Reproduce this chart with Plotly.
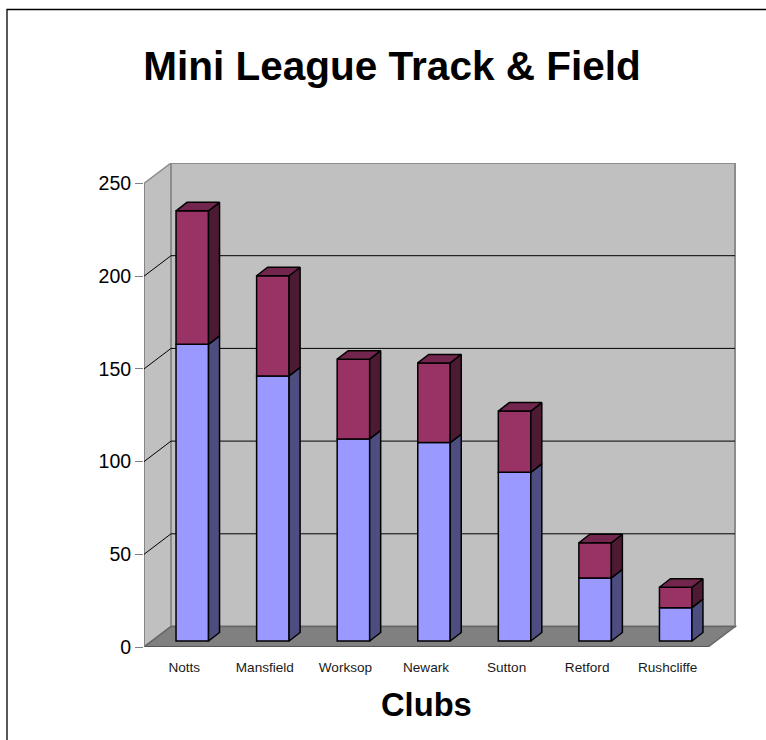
import plotly.graph_objects as go

# ---- data ----
clubs = ["Notts", "Mansfield", "Worksop", "Newark", "Sutton", "Retford", "Rushcliffe"]
lower_values = [160, 143, 109, 107, 91, 34, 18]
upper_values = [72, 54, 43, 43, 33, 19, 11]
y_ticks = [0, 50, 100, 150, 200, 250]

# ---- layout in pixels ----
W, H = 766, 740
PX_LEFT, PX_RIGHT, PX_TOP, PX_BOTTOM = 144, 737, 163, 647
PX_PER_CAT = 80.57
PX_PER_UNIT = 1.854
XMIN = -0.5
XMAX = XMIN + (PX_RIGHT - PX_LEFT) / PX_PER_CAT
YMAX = (PX_BOTTOM - PX_TOP) / PX_PER_UNIT

# depth of the chart box and of each bar, in data units
DX = 27 / PX_PER_CAT
DY = 20.5 / PX_PER_UNIT
BAR_W = 32.5 / PX_PER_CAT
BAR_DX = 11 / PX_PER_CAT
BAR_DY = 8.5 / PX_PER_UNIT
BAR_OX = 8 / PX_PER_CAT
BAR_OY = 6 / PX_PER_UNIT
X_FRONT_END = len(clubs) - 0.5

GREY = "#808080"
EDGE = "#8C8C8C"
shapes = []


def poly(xs, ys, fill, line=GREY, width=1):
    path = "M " + " L ".join(f"{x},{y}" for x, y in zip(xs, ys)) + " Z"
    shapes.append(dict(type="path", path=path, fillcolor=fill, xref="x", yref="y",
                       line=dict(color=line, width=width), layer="below"))


def seg(x0, y0, x1, y1, color, width=1):
    shapes.append(dict(type="line", x0=x0, y0=y0, x1=x1, y1=y1, xref="x", yref="y",
                       line=dict(color=color, width=width), layer="below"))


top = y_ticks[-1]
# side wall, back wall, floor
poly([XMIN, XMIN + DX, XMIN + DX, XMIN], [0, DY, top + DY, top], "#C0C0C0", line=EDGE, width=1.5)
poly([XMIN + DX, X_FRONT_END + DX, X_FRONT_END + DX, XMIN + DX], [DY, DY, top + DY, top + DY], "#C0C0C0", line=EDGE, width=2)
poly([XMIN, X_FRONT_END, X_FRONT_END + DX, XMIN + DX], [0, 0, DY, DY], "#808080", line="#666666", width=1.5)
seg(XMIN, 0, X_FRONT_END, 0, "#505050", 1.5)
seg(XMIN, 0, XMIN, top, GREY, 1.5)
# gridlines on the two walls
for t in y_ticks[1:-1]:
    seg(XMIN, t, XMIN + DX, t + DY, "#000000", 1)
    seg(XMIN + DX, t + DY, X_FRONT_END + DX, t + DY, "#000000", 1)

fig = go.Figure()
xpos = [i + BAR_OX for i in range(len(clubs))]
bases_upper = [BAR_OY + v for v in lower_values]

fig.add_trace(go.Bar(x=xpos, y=lower_values, base=[BAR_OY] * len(clubs), width=BAR_W,
                     marker=dict(color="#9999FF", line=dict(color="#000000", width=1.5)),
                     name="Series 1", hoverinfo="skip"))
fig.add_trace(go.Bar(x=xpos, y=upper_values, base=bases_upper, width=BAR_W,
                     marker=dict(color="#993366", line=dict(color="#000000", width=1.5)),
                     name="Series 2", hoverinfo="skip"))


def face(xs, ys, fill):
    fig.add_trace(go.Scatter(x=xs, y=ys, mode="lines", fill="toself", fillcolor=fill,
                             line=dict(color="#000000", width=1.5), hoverinfo="skip",
                             showlegend=False))


for x, lo, up in zip(xpos, lower_values, upper_values):
    r = x + BAR_W / 2
    l = x - BAR_W / 2
    y1 = BAR_OY
    y2 = y1 + lo
    y3 = y2 + up
    face([r, r + BAR_DX, r + BAR_DX, r, r], [y1, y1 + BAR_DY, y2 + BAR_DY, y2, y1], "#4D4D80")
    face([r, r + BAR_DX, r + BAR_DX, r, r], [y2, y2 + BAR_DY, y3 + BAR_DY, y3, y2], "#4D1A33")
    face([l, l + BAR_DX, r + BAR_DX, r, l], [y3, y3 + BAR_DY, y3 + BAR_DY, y3, y3], "#73264D")


def paper_x(px):
    return (px - PX_LEFT) / (PX_RIGHT - PX_LEFT)


def paper_y(py):
    return (PX_BOTTOM - py) / (PX_BOTTOM - PX_TOP)


# outer frame: runs off the right and bottom of the page
shapes.append(dict(type="path", xref="paper", yref="paper", layer="below",
                   path=f"M {paper_x(7)},{paper_y(760)} L {paper_x(7)},{paper_y(9.5)} L {paper_x(790)},{paper_y(9.5)}",
                   line=dict(color="#000000", width=1.3)))

fig.update_layout(
    width=W, height=H, autosize=False, showlegend=False, barmode="overlay",
    paper_bgcolor="#FFFFFF", plot_bgcolor="rgba(0,0,0,0)",
    margin=dict(l=PX_LEFT, r=W - PX_RIGHT, t=PX_TOP, b=H - PX_BOTTOM, pad=0),
    font=dict(family="Liberation Sans, Arial, sans-serif", color="#000000"),
    shapes=shapes,
    xaxis=dict(range=[XMIN, XMAX], tickmode="array", tickvals=list(range(len(clubs))), ticktext=clubs,
               tickfont=dict(size=13.6, color="#1A1A1A"), ticks="outside", ticklen=8, tickcolor="rgba(0,0,0,0)",
               showgrid=False, zeroline=False, showline=False, fixedrange=True),
    yaxis=dict(range=[0, YMAX], tickmode="array", tickvals=y_ticks,
               tickfont=dict(size=19.5), ticks="outside", ticklen=8, tickcolor=GREY, tickwidth=1.2,
               showgrid=False, zeroline=False, showline=False, fixedrange=True),
    title=dict(text="<b>Mini League Track &amp; Field</b>", font=dict(size=40.5),
               x=392 / W, xanchor="center", y=1 - 66 / H, yanchor="middle"),
    annotations=[dict(text="<b>Clubs</b>", xref="paper", yref="paper", x=paper_x(426), y=paper_y(704),
                      xanchor="center", yanchor="middle", showarrow=False, font=dict(size=32.7))],
)

fig.write_html("out.html", config=dict(displayModeBar=False),
               post_script="document.body.style.margin='0';document.body.style.overflow='hidden';")
